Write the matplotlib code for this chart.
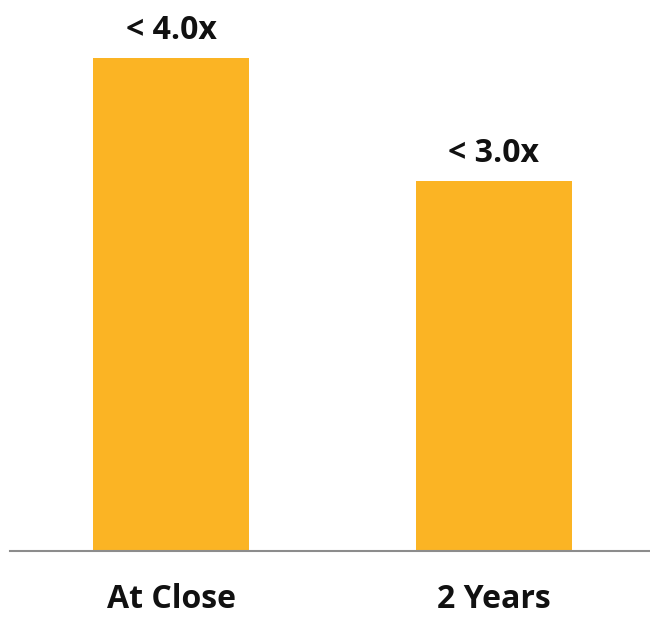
import matplotlib
matplotlib.use('Agg')
import matplotlib.pyplot as plt

# ── Data ──────────────────────────────────────────────────────
categories = ['At Close', '2 Years']
values     = [4.0, 3.0]
labels     = ['< 4.0x', '< 3.0x']

BAR  = '#FBB424'
AXIS = '#8c8c8c'
TXT  = '#111111'

plt.rcParams['font.family'] = ['Open Sans', 'DejaVu Sans']

fig = plt.figure(figsize=(6.5, 6.17), dpi=100, facecolor='white')
W, H = 650, 617
ax = fig.add_axes([10 / W, (H - 551) / H, 640 / W, (551 - 58) / H])

x = list(range(len(categories)))
bars = ax.bar(x, values, width=0.483, color=BAR, edgecolor='none')

ax.set_xlim(-0.4985, 1.483)
ax.set_ylim(0, 4.0)

for b, lab in zip(bars, labels):
    ax.annotate(lab, (b.get_x() + b.get_width() / 2, b.get_height()),
                xytext=(0, 8), textcoords='offset points',
                ha='center', va='bottom', fontsize=23, fontweight='bold',
                color=TXT, annotation_clip=False)

ax.set_xticks(x)
ax.set_xticklabels(categories, fontsize=23, fontweight='bold', color=TXT)
ax.tick_params(axis='x', length=0, pad=23)
ax.set_yticks([])

for s in ['top', 'right', 'left']:
    ax.spines[s].set_visible(False)
ax.spines['bottom'].set_color(AXIS)
ax.spines['bottom'].set_linewidth(1.5)

fig.savefig('out.png', dpi=100, facecolor='white')
